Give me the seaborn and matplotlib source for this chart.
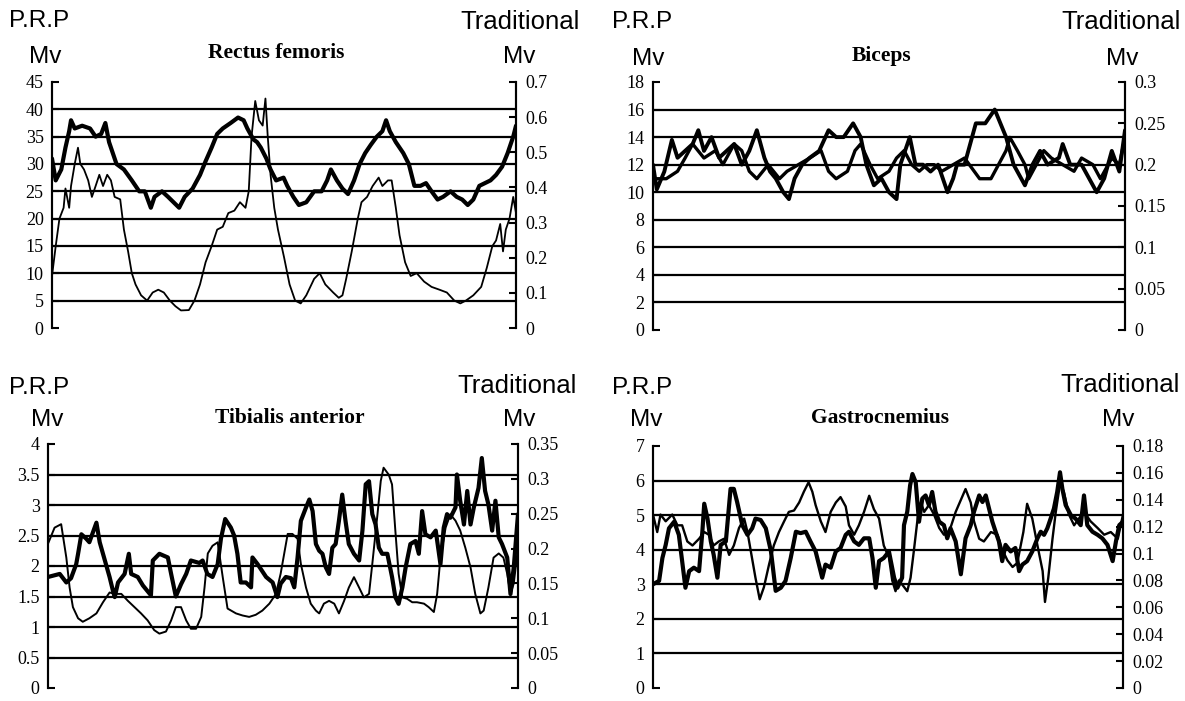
import numpy as np
import pandas as pd
import seaborn as sns
from matplotlib import pyplot as plt

# time axis is % of the recording, values in mV
# thick trace = P.R.P (left axis), thin trace = Traditional (right axis)

# Rectus femoris
rf_prp_t = [0, 0.8, 2, 2.9, 3.7, 4.1, 4.9, 6.5, 8.2, 9.4, 10.6, 11.5, 12.3, 13.9, 15.5, 17.2, 18.8, 20, 21.3, 22.1,
            23.7, 25, 26.2, 27.4, 28.6, 30.3, 31.9, 33.1, 34.4, 35.6, 36.8, 38.5, 40.1, 41.3, 42.1, 43.4, 44.2, 45,
            46.2, 47.1, 48.3, 49.9, 50.7, 52, 53.2, 54.8, 56.5, 58.1, 59.3, 60.1, 61.4, 62.6, 63.8, 65.1, 66.3, 67.5,
            68.7, 70, 71.2, 72, 72.8, 74.1, 75.7, 76.9, 78.1, 79.4, 80.6, 81.8, 83.1, 84.3, 85.9, 87.2, 88.4, 89.6,
            90.8, 92.1, 93.3, 94.5, 95.7, 97, 98.2, 99.4, 100]
rf_prp = [31, 27, 29, 33, 36, 38, 36.5, 37, 36.5, 35, 35.5, 37.5, 34, 30, 29, 27, 25, 25, 22, 24,
          25, 24, 23, 22, 24, 25.5, 28, 30.5, 33, 35.5, 36.5, 37.5, 38.5, 38, 36.5, 34.5, 34, 33, 31, 29,
          27, 27.5, 26, 24, 22.5, 23, 25, 25, 27, 29, 27, 25.5, 24.5, 27, 30, 32, 33.5, 35, 36, 38,
          36, 34, 32, 30, 26, 26, 26.5, 25, 23.5, 24, 25, 24, 23.5, 22.5, 23.5, 26, 26.5, 27, 28, 29.5,
          32, 35, 37]
rf_trad_t = [0, 0.8, 1.6, 2.5, 2.9, 3.7, 4.1, 4.9, 5.6, 6.1, 6.9, 7.8, 8.6, 9.4, 10.2, 11, 11.9, 12.7, 13.5, 14.7,
             15.5, 16.4, 17.2, 18, 19.2, 20.5, 21.7, 22.9, 24.1, 25.4, 26.6, 27.8, 29.5, 30.7, 31.9, 33.1, 34.4,
             35.6, 36.8, 38, 39.3, 40.5, 41.7, 42.4, 43, 43.8, 44.6, 45.4, 46, 46.5, 47.1, 47.9, 48.7, 50, 51.2,
             52.4, 53.6, 54.8, 56.5, 57.7, 58.9, 60.6, 61.8, 62.6, 63.4, 64.6, 65.9, 66.7, 67.9, 69.1, 70.4, 71.2,
             72.4, 73.2, 74.1, 74.9, 76.1, 77.3, 78.6, 80.2, 81.8, 83.5, 85.1, 86.7, 88, 89.2, 90.8, 92.5, 93.7,
             94.9, 95.7, 96.6, 97.2, 97.8, 98.6, 99.4, 100]
rf_trad = [0.148, 0.233, 0.311, 0.342, 0.397, 0.342, 0.404, 0.467, 0.513, 0.467, 0.451, 0.42, 0.373, 0.404,
           0.436, 0.404, 0.436, 0.42, 0.373, 0.366, 0.28, 0.218, 0.156, 0.124, 0.093, 0.078, 0.101, 0.109, 0.101,
           0.078, 0.062, 0.05, 0.051, 0.078, 0.124, 0.187, 0.233, 0.28, 0.288, 0.327, 0.334, 0.358, 0.342, 0.389,
           0.544, 0.646, 0.591, 0.576, 0.653, 0.544, 0.436, 0.342, 0.28, 0.202, 0.124, 0.078, 0.07, 0.093, 0.14,
           0.156, 0.124, 0.101, 0.086, 0.093, 0.14, 0.218, 0.311, 0.358, 0.373, 0.404, 0.428, 0.404, 0.42, 0.42,
           0.342, 0.264, 0.187, 0.148, 0.156, 0.132, 0.117, 0.109, 0.101, 0.078, 0.07, 0.078, 0.093, 0.117, 0.171,
           0.233, 0.249, 0.296, 0.218, 0.28, 0.311, 0.373, 0.327]
rf_left_ticks = [0, 5, 10, 15, 20, 25, 30, 35, 40, 45]
rf_right_ticks = [0, 0.1, 0.2, 0.3, 0.4, 0.5, 0.6, 0.7]

# Biceps
bi_prp_t = [0, 0.8, 2.4, 4, 5.2, 6.8, 8.4, 9.6, 10.8, 12.4, 14, 15.6, 17.2, 18.8, 20.4, 22, 23.6, 24.8, 26, 27.6,
            28.8, 30, 31.6, 33.2, 35.2, 37.2, 38.8, 40.4, 42.4, 44, 45.2, 46.8, 48.4, 50, 51.6, 52.4, 54.4, 55.6,
            57.2, 58.8, 60.4, 62.4, 63.6, 64.4, 66, 66.8, 68.4, 70.4, 72.4, 73.6, 74.8, 76.4, 78, 78.8, 80.4, 82,
            83.6, 86, 86.8, 88.4, 90.8, 92.4, 94, 95.6, 97.2, 98.8, 100]
bi_prp = [12, 10.2, 11.5, 13.8, 12.5, 13, 13.5, 14.5, 13, 14, 12.5, 13, 13.5, 12, 13, 14.5, 12.5, 11.5, 11, 10,
          9.5, 11, 12, 12.5, 13, 14.5, 14, 14, 15, 14, 12, 10.5, 11, 10, 9.5, 12, 14, 12, 12, 11.5,
          12, 10, 11, 12, 12, 13, 15, 15, 16, 15, 14, 12, 11, 10.5, 12, 13, 12, 12.5, 13.5, 12,
          12, 11, 10, 11, 13, 11.5, 14.5]
bi_trad_t = [0, 1.2, 2.8, 5.2, 6.8, 8.4, 10.8, 13.2, 14.8, 17.2, 18.8, 20.4, 22, 24.4, 26.8, 28.4, 30.8, 33.2,
             35.6, 37.2, 38.8, 41.2, 42.8, 44, 46, 47.6, 50, 51.6, 53.2, 54.8, 56.4, 58, 59.6, 61.2, 63.6, 66,
             69.2, 71.6, 73.2, 74.8, 75.6, 77.2, 78.8, 79.6, 81.2, 82.8, 84.4, 86.8, 89.2, 90.8, 93.2, 94.8, 97.2,
             98.8, 100]
bi_trad = [0.183, 0.183, 0.183, 0.192, 0.208, 0.225, 0.208, 0.217, 0.2, 0.225, 0.217, 0.192, 0.183, 0.2, 0.183,
           0.192, 0.2, 0.208, 0.217, 0.192, 0.183, 0.192, 0.217, 0.225, 0.2, 0.183, 0.192, 0.208, 0.217, 0.2,
           0.192, 0.2, 0.2, 0.192, 0.2, 0.208, 0.183, 0.183, 0.2, 0.217, 0.233, 0.217, 0.2, 0.183, 0.2, 0.217,
           0.208, 0.2, 0.192, 0.208, 0.2, 0.183, 0.208, 0.2, 0.233]
bi_left_ticks = [0, 2, 4, 6, 8, 10, 12, 14, 16, 18]
bi_right_ticks = [0, 0.05, 0.1, 0.15, 0.2, 0.25, 0.3]

# Tibialis anterior
ta_prp_t = [0, 2.5, 3.9, 4.9, 6, 6.4, 7.1, 8.1, 8.8, 10.3, 11, 11.7, 13.1, 13.8, 14.2, 14.9, 16.3, 17.2, 17.7,
            19.1, 20.2, 21.9, 22.3, 23.7, 25.5, 26.2, 27.2, 28.3, 29.4, 30.4, 32.2, 32.9, 33.9, 35, 36.1, 36.8,
            37.7, 38.9, 39.6, 40.3, 41, 42.1, 43.2, 43.5, 44.6, 46.4, 47.8, 48.8,
            49.5, 50.6, 51.7, 52.4, 53.1, 53.8, 54.9, 55.6, 56.3, 57, 57.7, 58.4, 59.1, 59.8, 60.5, 61.2, 61.9,
            62.6, 63.3, 64, 65.1, 66.2, 66.9, 67.6, 68.3, 69, 69.7, 70.4, 71.1, 72.2, 73.2, 73.9, 74.6, 75.4,
            76.1, 77.1, 78.2, 78.9, 79.6, 80.3, 81.4, 82.5, 83.5, 84.2, 84.9, 85.6, 86.7, 87, 87.7, 88.5, 89.2,
            89.9, 90.6, 91.6, 92.3, 93, 93.7, 94.5, 95.2, 95.9, 96.6, 97.7, 98.4, 99.1, 100]
ta_prp = [1.82, 1.87, 1.73, 1.8, 2.03, 2.2, 2.52, 2.45, 2.39, 2.71, 2.39, 2.2, 1.82, 1.6, 1.49, 1.73, 1.87, 2.2,
          1.87, 1.82, 1.68, 1.52, 2.09, 2.2, 2.14, 1.87, 1.5, 1.7, 1.87, 2.09, 2.05, 2.09, 1.87, 1.82, 2.03, 2.45,
          2.77, 2.63, 2.5, 2.2, 1.73, 1.73, 1.65, 2.14, 2.03, 1.82, 1.73, 1.49,
          1.71, 1.82, 1.8, 1.65, 2.14, 2.74, 2.96, 3.09, 2.9, 2.36, 2.25, 2.2, 1.98, 1.87, 2.3, 2.36, 2.74, 3.17,
          2.74, 2.36, 2.2, 2.09, 2.58, 3.34, 3.39, 2.85, 2.68, 2.3, 2.2, 2.2, 1.82, 1.49, 1.38, 1.65, 1.98, 2.36,
          2.41, 2.2, 2.9, 2.52, 2.47, 2.58, 2.03, 2.63, 2.85, 2.79, 2.96, 3.5, 3.07, 2.68, 3.23, 2.68, 2.96, 3.28,
          3.77, 3.23, 3.01, 2.58, 3.07, 2.47, 2.36, 2.14, 1.54, 1.98, 2.85]
ta_trad_t = [0, 1.4, 2.8, 3.9, 4.6, 5.3, 6.4, 7.4, 8.8, 10.3, 11.7, 13.1, 14.2, 15.6, 17, 18.4, 19.8, 21.2, 22.6,
             23.7, 25.1, 26.2, 27.2, 28.3, 29.4, 30.4, 31.5, 32.6, 33.3, 34, 35, 36.1, 37.2, 38.2, 40, 41.4, 42.8,
             44.2, 45.6, 47.1, 48.5, 49.5, 51, 52, 53.1, 53.8, 54.9, 55.9, 57, 57.7, 58.7, 59.8, 60.9, 61.9, 63,
             64, 65.1, 66.2, 67.2, 68.3, 69, 70.1, 70.8, 71.4, 72.5, 73.2, 73.9, 74.6, 75.4, 76.4, 77.5, 78.5, 80,
             81, 82.1, 82.8, 83.5, 84.6, 85.6, 86.7, 87.7, 88.8, 89.9, 90.9, 92, 92.7, 93.7, 94.8, 95.9, 96.9,
             97.7, 98.4, 99.1, 100]
ta_trad = [0.207, 0.23, 0.235, 0.187, 0.144, 0.116, 0.1, 0.095, 0.1, 0.107, 0.123, 0.137, 0.135, 0.135, 0.125,
           0.116, 0.107, 0.097, 0.083, 0.078, 0.081, 0.097, 0.116, 0.116, 0.097, 0.085, 0.085, 0.102, 0.144, 0.193,
           0.204, 0.209, 0.158, 0.114, 0.107, 0.104, 0.102, 0.105, 0.111, 0.121, 0.135, 0.164, 0.221, 0.221, 0.214,
           0.178, 0.144, 0.121, 0.111, 0.107, 0.121, 0.125, 0.121, 0.107, 0.125, 0.144, 0.159, 0.144, 0.13, 0.135,
           0.178, 0.249, 0.297, 0.316, 0.306, 0.292, 0.226, 0.164, 0.13, 0.128, 0.123, 0.123, 0.121, 0.116, 0.109,
           0.135, 0.187, 0.23, 0.249, 0.24, 0.226, 0.201, 0.173, 0.135, 0.107, 0.111, 0.144, 0.187, 0.193, 0.187,
           0.164, 0.135, 0.15, 0.201]
ta_left_ticks = [0, 0.5, 1, 1.5, 2, 2.5, 3, 3.5, 4]
ta_right_ticks = [0, 0.05, 0.1, 0.15, 0.2, 0.25, 0.3, 0.35]

# Gastrocnemius
ga_prp_t = [0, 1.3, 2, 2.7, 3.4, 4.5, 5.5, 6.2, 6.9, 7.7, 8.7, 9.8, 10.5, 10.9, 11.6, 12.3, 12.9, 13.7, 14.4,
            15.5, 16.5, 17.2, 17.9, 19, 20.1, 21.1, 21.8, 22.9, 24, 25.1, 26.1, 27.2, 28.2, 29.3, 30.4, 31.4, 32.5,
            33.5, 34.6, 35.3, 36, 36.7, 37.8, 38.9, 39.9, 41, 41.7, 42.8, 43.8, 44.9, 46, 46.7, 47.4, 48.1, 49.1,
            50.2, 51.3, 52, 53, 53.4, 54.1, 54.7, 55.2, 55.9, 56.6, 57.3, 58, 58.7, 59.4, 60.1, 60.9, 61.9, 62.6,
            63.3, 64.4, 65.5, 66.5, 67.6, 68.3, 69.4, 70.1, 70.8, 71.5, 72.2, 72.9, 73.6, 74.3, 75, 76.1, 77.1,
            77.9, 78.6, 79.6, 80.7, 81.8, 82.5, 83.2, 83.9, 84.6, 85.3, 86, 86.6, 87.1, 87.8, 88.9, 89.9, 91, 91.7,
            92.4, 93.5, 94.6, 95.6, 96.7, 97.8, 98.5, 99.2, 100]
ga_prp = [3.0, 3.1, 3.76, 4.14, 4.62, 4.81, 4.43, 3.67, 2.9, 3.38, 3.48, 3.38, 4.52, 5.33, 4.9, 4.24, 3.86, 3.19,
          4.14, 4.24, 5.76, 5.76, 5.38, 4.71, 4.43, 4.62, 4.9, 4.86, 4.62, 3.95, 2.81, 2.9, 3.1, 3.76, 4.52, 4.48,
          4.52, 4.24, 3.95, 3.57, 3.19, 3.57, 3.48, 3.95, 4.05, 4.43, 4.52, 4.24, 4.14, 4.33, 4.33, 3.76, 2.9, 3.67,
          3.76, 3.95, 3.19, 2.9, 3.19, 4.71, 5.1, 5.86, 6.19, 5.95, 4.81, 5.48, 5.57, 5.29, 5.67, 5.1, 4.81, 4.71,
          4.33, 4.62, 4.24, 3.29, 4.33, 4.71, 5.1, 5.57, 5.38, 5.57, 5.19, 4.81, 4.52, 4.24, 3.67, 4.14, 3.95, 4.05,
          3.38, 3.57, 3.67, 3.95, 4.33, 4.52, 4.43, 4.62, 4.9, 5.19, 5.67, 6.24, 5.76, 5.29, 5.0, 4.9, 4.71, 5.57,
          4.71, 4.52, 4.43, 4.33, 4.14, 3.67, 4.24, 4.71, 4.81]
ga_trad_t = [0, 0.9, 1.6, 2.7, 4.1, 5.2, 6.2, 7.3, 8.4, 9.8, 10.9, 11.9, 12.9, 14, 15.1, 16.2, 17.2, 18.3, 19.4,
             20.1, 20.8, 21.8, 22.7, 23.6, 24.7, 25.7, 26.8, 27.9, 28.9, 30, 31.1, 32.1, 33.1, 33.9, 34.6, 35.7,
             36.7, 37.8, 38.9, 39.9, 41, 41.7, 42.8, 43.8, 44.9, 46, 47, 48.1, 49.1, 50.2, 50.9, 51.6, 52.3, 53,
             54.1, 54.8, 55.5, 56.3, 57, 57.7, 58.7, 59.8, 60.9, 61.9, 63, 64.4, 66.5, 67.6, 68.3, 69.4, 70.4, 71.9,
             73.3, 74.3, 75.4, 76.5, 77.5, 78.8, 79.6, 80.7, 81.8, 82.9, 83.4, 84.1, 85, 85.7, 86.6, 87.4, 88.5,
             89.6, 90.6, 91.7, 93.1, 94.6, 96, 97.4, 98.9, 100]
ga_trad = [0.129, 0.116, 0.129, 0.124, 0.129, 0.121, 0.121, 0.109, 0.106, 0.111, 0.116, 0.114, 0.106, 0.109, 0.111,
           0.099, 0.106, 0.119, 0.126, 0.116, 0.102, 0.082, 0.066, 0.075, 0.092, 0.106, 0.116, 0.124, 0.131, 0.132,
           0.138, 0.146, 0.153, 0.146, 0.136, 0.124, 0.116, 0.131, 0.138, 0.142, 0.135, 0.121, 0.114, 0.121, 0.131,
           0.143, 0.133, 0.126, 0.106, 0.097, 0.08, 0.072, 0.08, 0.077, 0.072, 0.082, 0.102, 0.126, 0.138, 0.131,
           0.136, 0.129, 0.119, 0.114, 0.116, 0.131, 0.148, 0.138, 0.124, 0.111, 0.109, 0.116, 0.114, 0.103, 0.095,
           0.09, 0.093, 0.116, 0.137, 0.126, 0.106, 0.087, 0.064, 0.082, 0.111, 0.131, 0.152, 0.146, 0.129, 0.121,
           0.126, 0.131, 0.124, 0.119, 0.114, 0.116, 0.111, 0.129]
ga_left_ticks = [0, 1, 2, 3, 4, 5, 6, 7]
ga_right_ticks = [0, 0.02, 0.04, 0.06, 0.08, 0.1, 0.12, 0.14, 0.16, 0.18]

sns.set_theme(style="white", rc={"axes.edgecolor": "black", "xtick.color": "black",
                                 "ytick.color": "black", "text.color": "black"})
plt.rcParams['font.family'] = ['Liberation Serif', 'DejaVu Serif']

W, H = 1185, 701
fig = plt.figure(figsize=(W / 100, H / 100), dpi=100)


def fx(x):
    return x / W


def fy(y):
    return 1 - y / H


def panel(box, title, t1, y1, t2, y2, lt, rt, lw1, lw2, txt):
    # box in pixels: left, top, right, bottom
    l, t, r, b = box
    ax = fig.add_axes([fx(l), fy(b), fx(r) - fx(l), fy(t) - fy(b)])
    ax2 = ax.twinx()
    sns.lineplot(x=t1, y=y1, ax=ax, color="black", lw=lw1, estimator=None, sort=False)
    sns.lineplot(x=t2, y=y2, ax=ax2, color="black", lw=lw2, estimator=None, sort=False)

    ax.set_xlim(0, 100)
    ax.set_ylim(lt[0], lt[-1])
    ax2.set_ylim(rt[0], rt[-1])
    ax.set_xticks([])
    ax.set_yticks(lt)
    ax.set_yticklabels([f"{v:g}" for v in lt], fontsize=13)
    ax2.set_yticks(rt)
    ax2.set_yticklabels([f"{v:g}" for v in rt], fontsize=13)
    ax.set_xlabel("")
    ax.set_ylabel("")
    ax2.set_ylabel("")

    ax.yaxis.grid(True, color="black", lw=1.6)
    gl = ax.get_ygridlines()
    gl[0].set_visible(False)
    gl[-1].set_visible(False)

    for a in (ax, ax2):
        a.spines["top"].set_visible(False)
        a.spines["bottom"].set_visible(False)
        a.spines["left"].set_linewidth(1.5)
        a.spines["right"].set_linewidth(1.5)
    ax.tick_params(axis="y", direction="in", length=5, width=1.5, pad=6, left=True)
    ax2.tick_params(axis="y", direction="in", length=5, width=1.5, pad=7, right=True)

    sans = ['Liberation Sans', 'DejaVu Sans']
    (px1, py1), (px2, py2), (tx, ty), (rx1, ry1), (rx2, ry2) = txt
    fig.text(fx(px1), fy(py1), "P.R.P", family=sans, fontsize=17.5, ha="left", va="center")
    fig.text(fx(px2), fy(py2), "Mv", family=sans, fontsize=17.5, ha="left", va="center")
    fig.text(fx(tx), fy(ty), title, fontsize=15.5, fontweight="bold", ha="center", va="center")
    fig.text(fx(rx1), fy(ry1), "Traditional", family=sans, fontsize=18.5, ha="right", va="center")
    fig.text(fx(rx2), fy(ry2), "Mv", family=sans, fontsize=17.5, ha="center", va="center")


panel((52, 82, 516, 328), "Rectus femoris", rf_prp_t, rf_prp, rf_trad_t, rf_trad,
      rf_left_ticks, rf_right_ticks, 3.0, 1.3,
      [(9, 21), (29, 57), (276, 53), (580, 22), (519, 57)])
panel((653, 82, 1125, 330), "Biceps", bi_prp_t, bi_prp, bi_trad_t, bi_trad,
      bi_left_ticks, bi_right_ticks, 2.8, 2.4,
      [(612, 22), (632, 59), (882, 56), (1181, 22), (1122, 59)])
panel((48, 444, 518, 688), "Tibialis anterior", ta_prp_t, ta_prp, ta_trad_t, ta_trad,
      ta_left_ticks, ta_right_ticks, 3.0, 1.4,
      [(9, 388), (31, 420), (290, 418), (577, 386), (519, 420)])
panel((653, 446, 1123, 688), "Gastrocnemius", ga_prp_t, ga_prp, ga_trad_t, ga_trad,
      ga_left_ticks, ga_right_ticks, 3.0, 1.7,
      [(612, 388), (630, 420), (880, 418), (1180, 385), (1118, 420)])

fig.savefig("out.png", dpi=100, facecolor="white")
